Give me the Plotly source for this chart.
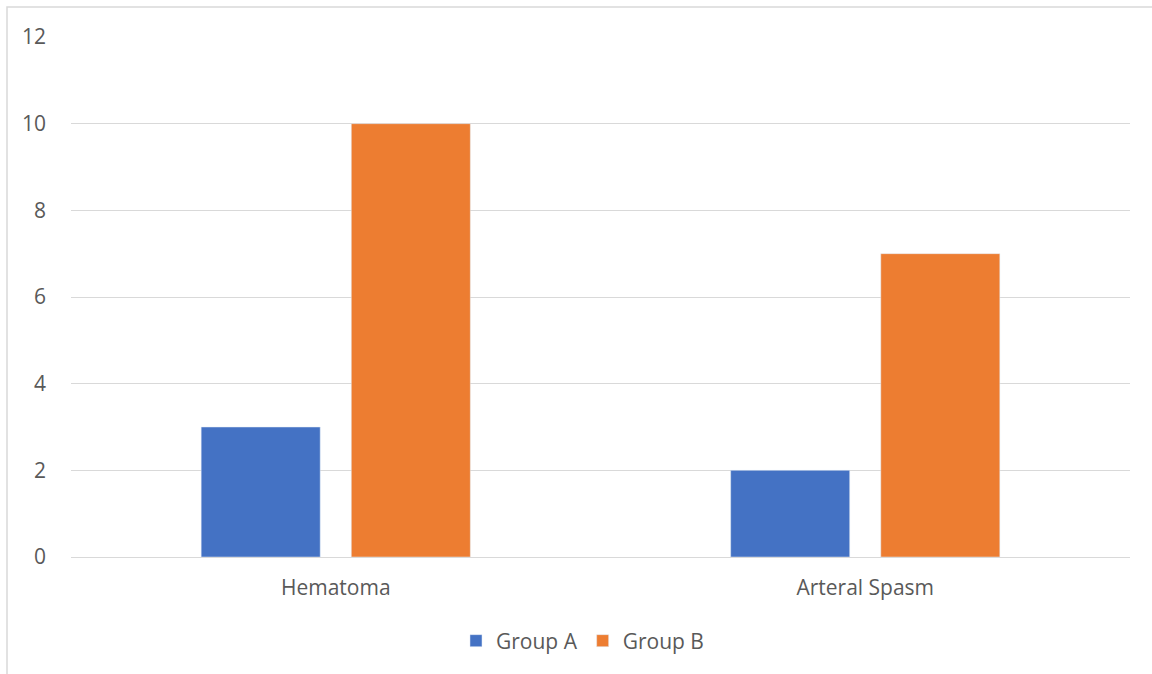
import plotly.graph_objects as go

categories = ["Hematoma", "Arteral Spasm"]
group_a = [3, 2]
group_b = [10, 7]
y_ticks = [0, 2, 4, 6, 8, 10, 12]

W, H = 1152, 674
L, R, T, B = 71, 22, 37, 117
pw, ph = W - L - R, H - T - B

fig = go.Figure()
fig.add_trace(go.Bar(name="Group A", x=categories, y=group_a, marker_color="#4472C4"))
fig.add_trace(go.Bar(name="Group B", x=categories, y=group_b, marker_color="#ED7D31"))

font = dict(family="Open Sans, Liberation Sans, sans-serif", size=21, color="#595959")
fig.update_layout(
    width=W, height=H,
    margin=dict(l=L, r=R, t=T, b=B),
    paper_bgcolor="white", plot_bgcolor="white",
    barmode="group", bargap=0.433, bargroupgap=0.207,
    font=font,
    showlegend=True,
    legend=dict(orientation="h", x=0.483, xanchor="center", y=(H - 641 - B) / ph, yanchor="middle",
                font=dict(size=21, color="#595959"), itemwidth=30, traceorder="normal"),
    xaxis=dict(showgrid=False, showline=False, ticks="", tickfont=dict(size=21), ticklabelstandoff=16),
    yaxis=dict(range=[0, 12], tickvals=y_ticks, showgrid=True, gridcolor="#d9d9d9", gridwidth=1,
               zeroline=True, zerolinecolor="#d9d9d9", zerolinewidth=1, showline=False, ticks="",
               tickfont=dict(size=21), ticklabelstandoff=24),
    shapes=[dict(type="rect", xref="paper", yref="paper",
                 x0=(7 - L) / pw, x1=(W + 10 - L) / pw,
                 y0=-(H + 10 - T - ph) / ph, y1=(H - 7 - B) / ph,
                 line=dict(color="#d9d9d9", width=1.5), fillcolor="rgba(0,0,0,0)", layer="below")],
)
fig.write_html("out.html")
